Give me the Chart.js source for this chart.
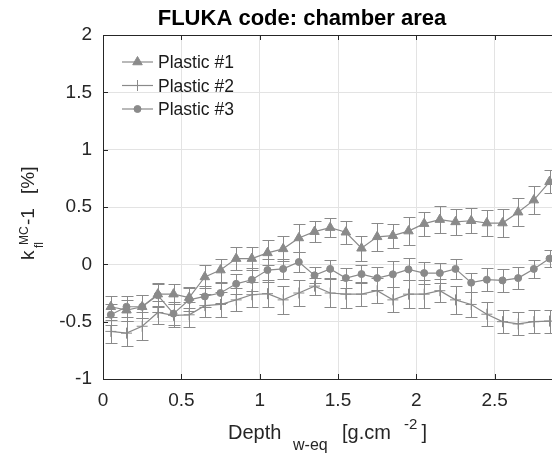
<!DOCTYPE html>
<html>
<head>
<meta charset="utf-8">
<script src="https://cdn.jsdelivr.net/npm/chart.js@4/dist/chart.umd.min.js"></script>
<style>
  html, body { margin: 0; padding: 0; background: #fff; overflow: hidden; }
  #wrap { width: 552px; height: 455px; overflow: hidden; position: relative; }
  canvas { display: block; }
</style>
</head>
<body>
<div id="wrap"><canvas id="chart" width="604" height="455"></canvas></div>
<script>
// depth (g/cm2) and k_fl^MC - 1 (%)
const depth = [0.05, 0.15, 0.25, 0.35, 0.45, 0.55, 0.65, 0.75, 0.85, 0.95,
               1.05, 1.15, 1.25, 1.35, 1.45, 1.55, 1.65, 1.75, 1.85, 1.95,
               2.05, 2.15, 2.25, 2.35, 2.45, 2.55, 2.65, 2.75, 2.85];

const plastic1 = [-0.37, -0.40, -0.37, -0.26, -0.26, -0.29, -0.11, -0.05, 0.05, 0.05,
                  0.10, 0.135, 0.23, 0.285, 0.32, 0.28, 0.14, 0.24, 0.25, 0.29,
                  0.355, 0.39, 0.37, 0.38, 0.36, 0.36, 0.455, 0.56, 0.72];
const plastic1Err = [0.09, 0.09, 0.10, 0.10, 0.09, 0.09, 0.10, 0.10, 0.10, 0.10,
                     0.11, 0.11, 0.12, 0.09, 0.08, 0.10, 0.11, 0.12, 0.105, 0.12,
                     0.105, 0.12, 0.11, 0.11, 0.11, 0.12, 0.12, 0.12, 0.10];

const plastic2 = [-0.585, -0.60, -0.54, -0.42, -0.445, -0.44, -0.36, -0.35, -0.31, -0.265,
                  -0.256, -0.31, -0.25, -0.19, -0.25, -0.26, -0.26, -0.23, -0.31, -0.26,
                  -0.26, -0.23, -0.31, -0.35, -0.435, -0.50, -0.52, -0.50, -0.495];
const plastic2Err = [0.10, 0.11, 0.12, 0.10, 0.10, 0.11, 0.10, 0.11, 0.10, 0.11,
                     0.12, 0.12, 0.11, 0.075, 0.12, 0.12, 0.105, 0.11, 0.11, 0.12,
                     0.12, 0.10, 0.12, 0.11, 0.105, 0.10, 0.10, 0.10, 0.10];

const plastic3 = [-0.44, -0.37, -0.37, -0.27, -0.43, -0.31, -0.28, -0.25, -0.17, -0.135,
                  -0.05, -0.04, 0.02, -0.096, -0.04, -0.12, -0.085, -0.12, -0.087, -0.044,
                  -0.076, -0.076, -0.04, -0.16, -0.134, -0.14, -0.12, -0.04, 0.05];
const plastic3Err = [0.09, 0.09, 0.10, 0.10, 0.10, 0.10, 0.09, 0.09, 0.09, 0.10,
                     0.10, 0.085, 0.09, 0.07, 0.08, 0.085, 0.08, 0.10, 0.115, 0.095,
                     0.095, 0.085, 0.09, 0.085, 0.10, 0.10, 0.095, 0.08, 0.075];

const seriesNames = ['Plastic #1', 'Plastic #2', 'Plastic #3'];
const xTicks = [0, 0.5, 1, 1.5, 2, 2.5, 3];
const yTicks = [-1, -0.5, 0, 0.5, 1, 1.5, 2];

const GREY = '#8a8a8a';
const AXIS = '#262626';
const FONT = '"Liberation Sans", Arial, sans-serif';

const errors = [plastic1Err, plastic2Err, plastic3Err];
const styles = [
  { pointStyle: 'triangle', radius: 5.5 },
  { pointStyle: 'cross', radius: 5.5 },
  { pointStyle: 'circle', radius: 3.5 },
];

function makeSet(name, values, i) {
  return {
    label: name,
    data: depth.map((d, k) => ({ x: d, y: values[k] })),
    borderColor: GREY,
    backgroundColor: GREY,
    borderWidth: 1.2,
    pointStyle: styles[i].pointStyle,
    pointRadius: styles[i].radius,
    pointBorderWidth: 1,
    pointBorderColor: GREY,
    pointBackgroundColor: GREY,
    tension: 0,
    fill: false,
  };
}

// error bars, frame, inward ticks, titles and legend
const decor = {
  id: 'decor',
  beforeDatasetsDraw(chart) {
    const { ctx, scales: { x, y } } = chart;
    ctx.save();
    ctx.strokeStyle = GREY;
    ctx.lineWidth = 1;
    chart.data.datasets.forEach((ds, i) => {
      ds.data.forEach((p, k) => {
        const px = Math.round(x.getPixelForValue(p.x)) + 0.5;
        const top = Math.round(y.getPixelForValue(p.y + errors[i][k])) + 0.5;
        const bot = Math.round(y.getPixelForValue(p.y - errors[i][k])) + 0.5;
        ctx.beginPath();
        ctx.moveTo(px, top); ctx.lineTo(px, bot);
        ctx.moveTo(px - 6, top); ctx.lineTo(px + 6, top);
        ctx.moveTo(px - 6, bot); ctx.lineTo(px + 6, bot);
        ctx.stroke();
      });
    });
    ctx.restore();
  },
  afterDraw(chart) {
    const { ctx, chartArea: a, scales: { x, y } } = chart;
    ctx.save();

    // box + inward ticks
    ctx.strokeStyle = AXIS;
    ctx.lineWidth = 1;
    ctx.beginPath();
    ctx.moveTo(a.left, a.top + 0.5); ctx.lineTo(a.right, a.top + 0.5);
    ctx.moveTo(a.right - 0.5, a.top); ctx.lineTo(a.right - 0.5, a.bottom);
    xTicks.forEach(v => {
      const px = Math.round(x.getPixelForValue(v)) + 0.5;
      ctx.moveTo(px, a.bottom); ctx.lineTo(px, a.bottom - 5);
      ctx.moveTo(px, a.top); ctx.lineTo(px, a.top + 5);
    });
    yTicks.forEach(v => {
      const py = Math.round(y.getPixelForValue(v)) + 0.5;
      ctx.moveTo(a.left, py); ctx.lineTo(a.left + 5, py);
      ctx.moveTo(a.right, py); ctx.lineTo(a.right - 5, py);
    });
    ctx.stroke();

    // title
    ctx.fillStyle = '#000';
    ctx.textAlign = 'center';
    ctx.textBaseline = 'alphabetic';
    ctx.font = 'bold 22px ' + FONT;
    ctx.fillText('FLUKA code: chamber area', chart.width / 2, 25);

    // x axis title
    ctx.fillStyle = AXIS;
    ctx.textAlign = 'left';
    ctx.font = '20px ' + FONT;
    ctx.fillText('Depth', 228, 439);
    ctx.fillText('[g.cm', 342, 439);
    ctx.fillText(']', 421.5, 439);
    ctx.font = '16px ' + FONT;
    ctx.fillText('w-eq', 293, 450);
    ctx.font = '15px ' + FONT;
    ctx.fillText('-2', 404, 429);

    // y axis title (rotated)
    ctx.save();
    ctx.translate(33.5, 260);
    ctx.rotate(-Math.PI / 2);
    ctx.font = '19px ' + FONT;
    ctx.fillText('k', 0, 0);
    ctx.fillText('-1', 35, 0);
    ctx.fillText('[%]', 66, 0);
    ctx.font = '12px ' + FONT;
    ctx.fillText('fl', 12, 9);
    ctx.fillText('MC', 15, -5.5);
    ctx.restore();

    // legend
    seriesNames.forEach((name, i) => {
      const ly = 62 + i * 23.5;
      ctx.strokeStyle = GREY;
      ctx.fillStyle = GREY;
      ctx.lineWidth = 1.2;
      ctx.beginPath();
      ctx.moveTo(122, ly); ctx.lineTo(153, ly);
      ctx.stroke();
      ctx.lineWidth = 1;
      Chart.helpers.drawPoint(ctx, {
        pointStyle: styles[i].pointStyle,
        radius: styles[i].radius,
        rotation: 0,
        borderWidth: 1,
      }, 137.5, ly);
      ctx.fillStyle = '#1a1a1a';
      ctx.font = '17.5px ' + FONT;
      ctx.fillText(name, 158, ly + 6);
    });

    ctx.restore();
  },
};

new Chart(document.getElementById('chart'), {
  type: 'line',
  data: {
    datasets: seriesNames.map((n, i) => makeSet(n, [plastic1, plastic2, plastic3][i], i)),
  },
  options: {
    responsive: false,
    animation: false,
    devicePixelRatio: 1,
    layout: { padding: { left: 0, top: 35, right: 31, bottom: 0 } },
    plugins: {
      legend: { display: false },
      title: { display: false },
      tooltip: { enabled: false },
    },
    scales: {
      x: {
        type: 'linear',
        min: 0,
        max: 3,
        afterBuildTicks: s => { s.ticks = xTicks.map(v => ({ value: v })); },
        afterFit: s => { s.height = 76; },
        grid: { color: '#e3e3e3', drawTicks: false },
        border: { color: AXIS, width: 1 },
        ticks: {
          callback: v => String(v),
          font: { family: FONT, size: 19 },
          color: AXIS,
          padding: 10,
          maxRotation: 0,
        },
      },
      y: {
        type: 'linear',
        min: -1,
        max: 2,
        afterBuildTicks: s => { s.ticks = yTicks.map(v => ({ value: v })); },
        afterFit: s => { s.width = 103; },
        grid: { color: '#e3e3e3', drawTicks: false },
        border: { color: AXIS, width: 1 },
        ticks: {
          callback: v => String(v),
          font: { family: FONT, size: 19 },
          color: AXIS,
          padding: 11,
        },
      },
    },
  },
  plugins: [decor],
});
</script>
</body>
</html>
